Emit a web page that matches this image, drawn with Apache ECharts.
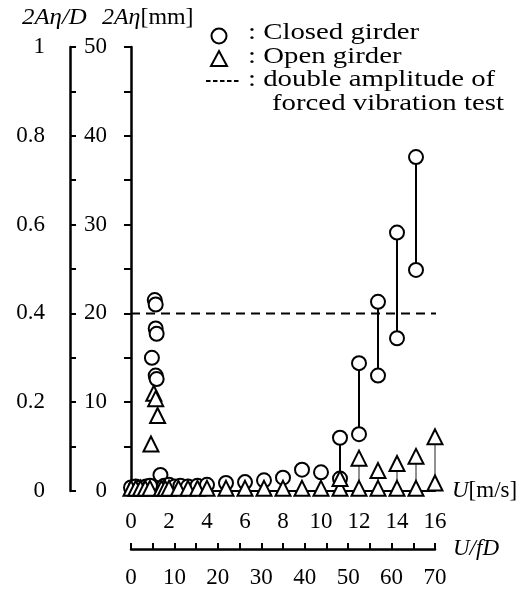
<!DOCTYPE html>
<html><head><meta charset="utf-8">
<script src="https://cdn.jsdelivr.net/npm/echarts@6/dist/echarts.min.js"></script>
<style>html,body{margin:0;padding:0;background:#fff}#c{width:522px;height:593px}</style>
</head><body><div id="c"></div>
<script>
// ---- data (U in m/s, 2Aη in mm) ----
const closedU   = [0,0.25,0.5,0.8,1.0,1.55,1.75,2.0,2.3,2.6,3.0,3.5,4,5,6,7,8,9,10,11,11,12,12,13,13,14,14,15,15,1.25,1.3,1.3,1.35,1.1,1.3,1.35];
const closedAmp = [0.4,0.5,0.4,0.5,0.6,1.8,0.6,0.7,0.5,0.6,0.5,0.6,0.7,0.9,1.0,1.2,1.5,2.4,2.1,6.0,1.4,14.4,6.4,21.3,13.0,29.1,17.2,37.6,24.9,21.5,21.0,18.3,17.7,15.0,13.0,12.6];
const openU     = [0,0.25,0.5,0.75,1.0,1.05,1.2,1.3,1.4,1.6,1.8,2.0,2.5,3,3.5,4,5,6,7,8,9,10,11,11,12,12,13,13,14,14,15,15,16,16];
const openAmp   = [0.3,0.3,0.3,0.3,0.3,5.3,11.0,10.4,8.5,0.3,0.3,0.3,0.3,0.3,0.3,0.3,0.3,0.3,0.3,0.3,0.3,0.3,0.3,1.4,3.7,0.3,2.3,0.3,3.1,0.3,3.9,0.3,6.1,0.9];
const closedPairU   = [11,12,13,14,15];
const closedPairTop = [6.0,14.4,21.3,29.1,37.6];
const closedPairBot = [1.4,6.4,13.0,17.2,24.9];
const openPairU   = [12,13,14,15,16];
const openPairTop = [3.7,2.3,3.1,3.9,6.1];
const openPairBot = [0.3,0.3,0.3,0.3,0.9];
const forcedAmp = 20;
const forcedURange = [0,16.2];
const uTickStep = 2, ufdTickStep = 10, mmTickStep = 10, normTickStep = 0.2;

const FF = '"Liberation Serif","Times New Roman",serif';
const FS = 23;
const black = '#000';

const series = [];
closedPairU.forEach((u,i)=>{
  series.push({type:'line', data:[[u,closedPairTop[i]],[u,closedPairBot[i]]], symbol:'none', z:1,
    lineStyle:{color:black,width:2}, silent:true});
});
openPairU.forEach((u,i)=>{
  series.push({type:'line', data:[[u,openPairTop[i]],[u,openPairBot[i]]], symbol:'none', z:1,
    lineStyle:{color:'#222',width:1}, silent:true});
});
series.push({type:'line', data:[[forcedURange[0],forcedAmp],[forcedURange[1],forcedAmp]], symbol:'none', z:1, clip:false,
  lineStyle:{color:black,width:2,type:[9,6]}, silent:true});
series.push({type:'scatter', name:'Closed girder', data:closedU.map((u,i)=>[u,closedAmp[i]]), symbol:'circle', symbolSize:14, z:3, clip:false,
  itemStyle:{color:'#fff',borderColor:black,borderWidth:2,opacity:1}, silent:true});
series.push({type:'scatter', name:'Open girder', data:openU.map((u,i)=>[u,openAmp[i]]), symbol:'triangle', symbolSize:15, z:4, clip:false,
  itemStyle:{color:'#fff',borderColor:black,borderWidth:2,opacity:1}, silent:true});

const lbl = (m)=>({margin:m, fontSize:FS, color:black, fontFamily:FF});
const chart = echarts.init(document.getElementById('c'), null, {renderer:'canvas'});
const legendFont = '24px '+FF;
const LSX = 1.2;
chart.setOption({
  animation:false,
  backgroundColor:'#fff',
  grid:{left:131, top:47, width:304, height:444, containLabel:false},
  xAxis:[
    {type:'value', min:0, max:16, interval:uTickStep, position:'bottom',
     axisLine:{show:true,onZero:false,lineStyle:{color:black,width:2}}, axisTick:{show:false}, splitLine:{show:false},
     axisLabel:lbl(19),
     name:'{i|U}[m/s]', nameLocation:'end', nameGap:17,
     nameTextStyle:{fontSize:FS,color:black,fontFamily:FF,rich:{i:{fontStyle:'italic',fontSize:FS,fontFamily:FF,color:black}}}},
    {type:'value', min:0, max:70, interval:ufdTickStep, position:'bottom', offset:58,
     axisLine:{show:true,onZero:false,lineStyle:{color:black,width:2.5}},
     axisTick:{show:true,inside:true,length:6,lineStyle:{color:black,width:2}},
     minorTick:{show:true,splitNumber:2,length:6,lineStyle:{color:black,width:2}},
     splitLine:{show:false}, axisLabel:lbl(17),
     name:'U/fD', nameLocation:'end', nameGap:18,
     nameTextStyle:{fontSize:FS,color:black,fontFamily:FF,fontStyle:'italic'}}
  ],
  yAxis:[
    {type:'value', min:0, max:50, interval:mmTickStep, position:'left',
     axisLine:{show:true,onZero:false,lineStyle:{color:black,width:2.5}},
     axisTick:{show:true,inside:false,length:7,lineStyle:{color:black,width:2}},
     minorTick:{show:true,splitNumber:2,length:7,lineStyle:{color:black,width:2}},
     splitLine:{show:false}, axisLabel:lbl(24)},
    {type:'value', min:0, max:1, interval:normTickStep, position:'left', offset:61,
     axisLine:{show:true,onZero:false,lineStyle:{color:black,width:2.5}},
     axisTick:{show:true,inside:true,length:6,lineStyle:{color:black,width:2}},
     minorTick:{show:true,splitNumber:2,length:6,lineStyle:{color:black,width:2}},
     splitLine:{show:false}, axisLabel:lbl(25)}
  ],
  series:series,
  graphic:[
    {type:'text', x:22, y:18, scaleX:1.08, style:{text:'2Aη/D', verticalAlign:'middle', font:'italic 23px '+FF, fill:black}},
    {type:'text', x:102, y:18, scaleX:1.04, style:{text:'{i|2Aη}{n|[mm]}', verticalAlign:'middle', fill:black,
      rich:{i:{font:'italic 23px '+FF, fill:black}, n:{font:'23px '+FF, fill:black}}}},
    {type:'circle', shape:{cx:219, cy:36, r:7.5}, style:{fill:'#fff', stroke:black, lineWidth:2}},
    {type:'polygon', shape:{points:[[219,51],[227,66],[211,66]]}, style:{fill:'#fff', stroke:black, lineWidth:2}},
    {type:'line', shape:{x1:206, y1:81, x2:239, y2:81}, style:{stroke:black, lineWidth:2, lineDash:[4.5,2.5]}},
    {type:'text', x:248, y:33, scaleX:LSX, style:{text:': Closed girder', verticalAlign:'middle', font:legendFont, fill:black}},
    {type:'text', x:248, y:57, scaleX:LSX, style:{text:': Open girder', verticalAlign:'middle', font:legendFont, fill:black}},
    {type:'text', x:248, y:80, scaleX:LSX, style:{text:': double amplitude of', verticalAlign:'middle', font:legendFont, fill:black}},
    {type:'text', x:272, y:104, scaleX:LSX, style:{text:'forced vibration test', verticalAlign:'middle', font:legendFont, fill:black}}
  ]
});
</script></body></html>
